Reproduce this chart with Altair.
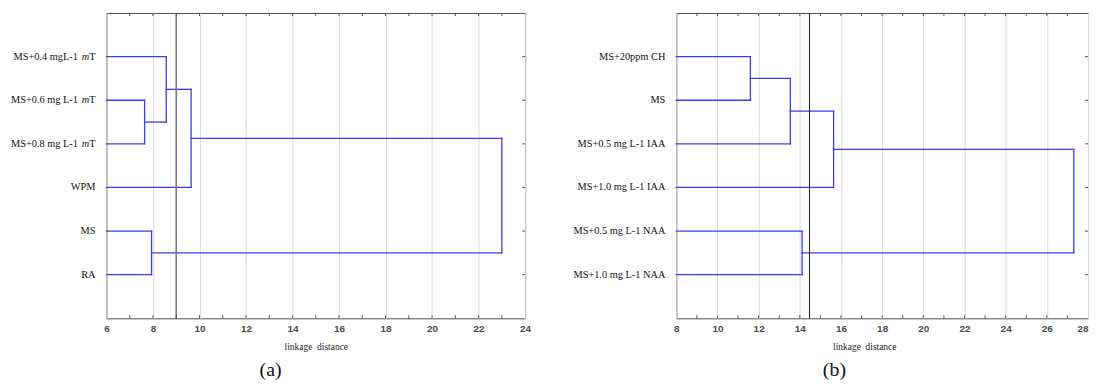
import altair as alt
import pandas as pd

# ---------------- data ----------------
A_LEAVES = ["MS+0.4 mgL-1 mT", "MS+0.6 mg L-1 mT", "MS+0.8 mg L-1 mT", "WPM", "MS", "RA"]
# (child1, child2, linkage distance); new nodes numbered after leaves
A_MERGES = [(1, 2, 7.64), (0, 6, 8.57), (7, 3, 9.64), (4, 5, 7.94), (8, 9, 23.0)]
A_CUT = 9.0
A_DOMAIN = [6, 24]
A_TICKS = [6, 8, 10, 12, 14, 16, 18, 20, 22, 24]

B_LEAVES = ["MS+20ppm CH", "MS", "MS+0.5 mg L-1 IAA", "MS+1.0 mg L-1 IAA",
            "MS+0.5 mg L-1 NAA", "MS+1.0 mg L-1 NAA"]
B_MERGES = [(0, 1, 11.6), (6, 2, 13.54), (7, 3, 15.64), (4, 5, 14.11), (8, 9, 27.31)]
B_CUT = 14.47
B_DOMAIN = [8, 28]
B_TICKS = [8, 10, 12, 14, 16, 18, 20, 22, 24, 26, 28]

X_TITLE = "linkage\u00a0 distance"
CAPTIONS = ["(a)", "(b)"]

# ---------------- style ----------------
H = 307
LINE = "#3c3cf2"
FRAME = "#505050"
SERIF = "Liberation Serif"
SANS = "Liberation Sans"
FS = 10.4
LBL_GAP = 11


def segments(n, merges, x0):
    pos = {i: (x0, i + 1) for i in range(n)}
    rows = []
    for k, (a, b, h) in enumerate(merges):
        xa, ya = pos[a]
        xb, yb = pos[b]
        rows.append(dict(x=xa, x2=h, y=ya, y2=ya))
        rows.append(dict(x=xb, x2=h, y=yb, y2=yb))
        rows.append(dict(x=h, x2=h, y=ya, y2=yb))
        pos[n + k] = (h, (ya + yb) / 2)
    return pd.DataFrame(rows)


def panel(leaves, merges, cut, domain, ticks, W, caption, cap_x, title_x,
          cut_color, cut_width):
    xs = alt.Scale(domain=domain, nice=False, zero=False)
    ys = alt.Scale(domain=[0, 7], reverse=True)
    last = domain[1]
    axis = alt.Axis(values=ticks, grid=True, gridColor="#dadada", gridWidth=1,
                    ticks=False, tickSize=0, domain=False, labelFont=SANS,
                    labelFontSize=10, labelFontWeight="bold", labelColor="#4a4a4a",
                    labelPadding=5,
                    labelAlign=alt.expr(f"datum.value == {last} ? 'right' : 'center'") if title_x is not None else "center",
                    title=X_TITLE, titleFont=SERIF, titleFontSize=9.5,
                    titleFontWeight="normal", titleColor="#222222",
                    titlePadding=8, labelFlush=False,
                    **({"titleX": title_x} if title_x is not None else {}))
    X = alt.X("x:Q", scale=xs, axis=axis)
    Y = alt.Y("y:Q", scale=ys, axis=None)

    segs = segments(len(leaves), merges, domain[0])
    lines = alt.Chart(segs).mark_rule(color=LINE, strokeWidth=1.3, strokeCap="square").encode(
        x=X, x2="x2:Q", y=Y, y2="y2:Q")

    cut_df = pd.DataFrame({"x": [cut]})
    cut_rule = alt.Chart(cut_df).mark_rule(color=cut_color, strokeWidth=cut_width).encode(
        x=X, y=alt.value(0), y2=alt.value(H))

    minor = pd.DataFrame({"x": list(range(domain[0] + 1, domain[1]))})
    top_t = alt.Chart(minor).mark_rule(color=FRAME, strokeWidth=1).encode(
        x=X, y=alt.value(0), y2=alt.value(3))
    bot_t = alt.Chart(minor).mark_rule(color=FRAME, strokeWidth=1).encode(
        x=X, y=alt.value(H - 3), y2=alt.value(H))
    leaf_df = pd.DataFrame({"y": list(range(1, len(leaves) + 1))})
    right_t = alt.Chart(leaf_df).mark_rule(color=FRAME, strokeWidth=1).encode(
        y=Y, x=alt.value(W - 3), x2=alt.value(W))

    layers = [lines, cut_rule, top_t, bot_t, right_t]

    # labels (with italic "m" in "mT")
    wT = 0.611 * FS
    wm = 0.722 * FS
    gap = 3.8
    plain = [(l, i + 1) for i, l in enumerate(leaves) if not l.endswith(" mT")]
    ital = [(l, i + 1) for i, l in enumerate(leaves) if l.endswith(" mT")]
    tstyle = dict(font=SERIF, fontSize=FS, color="#111111", align="right", baseline="middle")
    if plain:
        df = pd.DataFrame({"t": [p[0] for p in plain], "y": [p[1] for p in plain]})
        layers.append(alt.Chart(df).mark_text(**tstyle).encode(
            x=alt.value(-LBL_GAP), y=Y, text="t:N"))
    if ital:
        df = pd.DataFrame({"t": [p[0][:-3] for p in ital], "y": [p[1] for p in ital]})
        layers.append(alt.Chart(df).mark_text(**tstyle).encode(
            x=alt.value(-(LBL_GAP + wT + wm + gap)), y=Y, text="t:N"))
        dfm = pd.DataFrame({"t": ["m"] * len(ital), "y": [p[1] for p in ital]})
        layers.append(alt.Chart(dfm).mark_text(fontStyle="italic", **tstyle).encode(
            x=alt.value(-(LBL_GAP + wT)), y=Y, text="t:N"))
        dft = pd.DataFrame({"t": ["T"] * len(ital), "y": [p[1] for p in ital]})
        layers.append(alt.Chart(dft).mark_text(**tstyle).encode(
            x=alt.value(-LBL_GAP), y=Y, text="t:N"))

    cap_df = pd.DataFrame({"t": [caption]})
    layers.append(alt.Chart(cap_df).mark_text(font=SERIF, fontSize=20, color="#111111",
                                              align="center", baseline="middle").encode(
        x=alt.value(cap_x), y=alt.value(H + 52), text="t:N"))

    return alt.layer(*layers).properties(width=W, height=H)


left = panel(A_LEAVES, A_MERGES, A_CUT, A_DOMAIN, A_TICKS, 421, CAPTIONS[0], 165, None,
             "#7a7a7a", 1.6)
right = panel(B_LEAVES, B_MERGES, B_CUT, B_DOMAIN, B_TICKS, 414, CAPTIONS[1], 159, 189,
              "#1a1a1a", 1.0)

chart = alt.hconcat(left, right, spacing=152, bounds="flush").properties(
    padding={"left": 2, "top": 2, "right": 0, "bottom": 0}
).configure_view(stroke=FRAME, strokeWidth=1)

chart.save("out.html", embed_options={"renderer": "svg", "actions": False})
